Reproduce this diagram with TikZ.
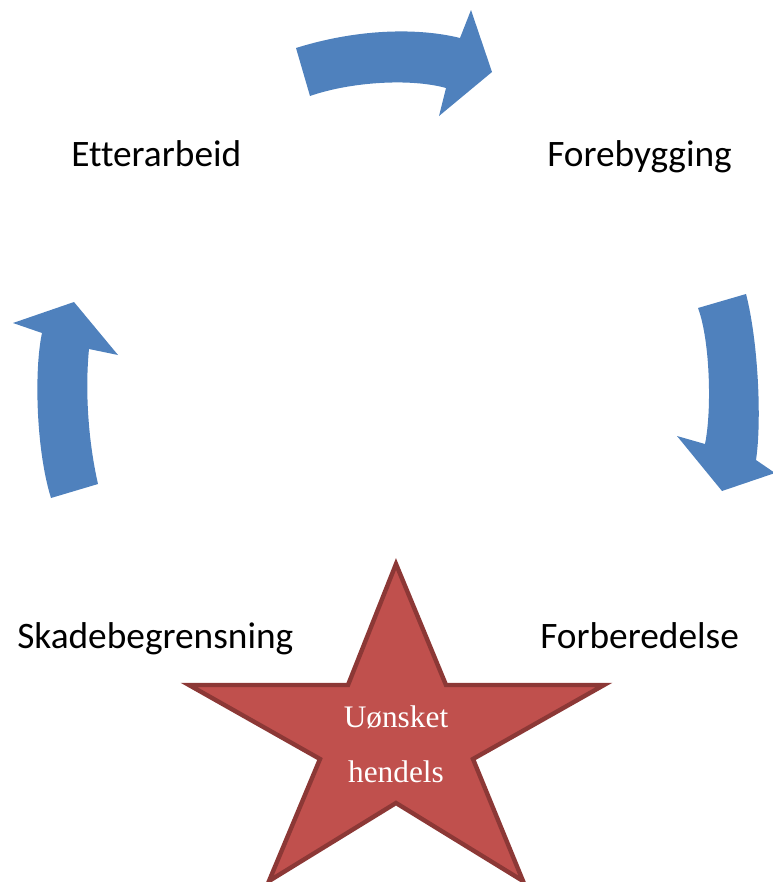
\documentclass[tikz,border=0pt]{standalone}
\usepackage{fontspec}
\setmainfont[Ligatures=NoCommon]{Carlito}
\newfontfamily\serifface{Liberation Serif}
\definecolor{arrowblue}{HTML}{4F81BD}
\definecolor{starfill}{HTML}{C0504D}
\definecolor{starline}{HTML}{8C3836}
\begin{document}
\begin{tikzpicture}[x=0.75pt,y=-0.75pt,
  blockarrow/.style={fill=arrowblue,draw=none},
  stagelabel/.style={anchor=base west,inner sep=0pt,font=\fontsize{28}{33}\selectfont},
  startext/.style={anchor=base,inner sep=0pt,text=white,font=\serifface\fontsize{23.5}{28}\selectfont}]
\useasboundingbox (0,0) rectangle (773,882);
% top arrow
\fill[blockarrow] (296,48) .. controls (360,28) and (420,28) .. (460,38)
  -- (471,10) -- (492,72) -- (439,116) -- (446,88)
  .. controls (410,78) and (350,82) .. (310,96) -- cycle;
% right arrow
\fill[blockarrow] (746,294) .. controls (758,340) and (762,420) .. (756,460)
  -- (775,473) -- (722,491) -- (677,436) -- (705,444)
  .. controls (712,410) and (710,340) .. (698,308) -- cycle;
% left arrow
\fill[blockarrow] (51,498) -- (98,484) .. controls (88,440) and (85,390) .. (89,349)
  -- (118,355) -- (74,302) -- (13,323) -- (42,333)
  .. controls (34,370) and (36,450) .. (51,498) -- cycle;
% labels
\node[stagelabel] (etter) at (71,166) {Etterarbeid};
\node[stagelabel] (fore) at (547,166) {Forebygging};
\node[stagelabel] (skade) at (17,648) {Skadebegrensning};
\node[stagelabel] (forb) at (540,648) {Forberedelse};
% star
\filldraw[fill=starfill,draw=starline,line width=3.3pt,line join=miter]
  (396,564) -- (446,685) -- (604,685) -- (473,759) -- (523,881)
  -- (396,803) -- (269,881) -- (320,759) -- (189,685) -- (348,685) -- cycle;
\node[startext] (u1) at (396,727) {Uønsket};
\node[startext] (u2) at (396,782) {hendels};
\end{tikzpicture}
\end{document}
